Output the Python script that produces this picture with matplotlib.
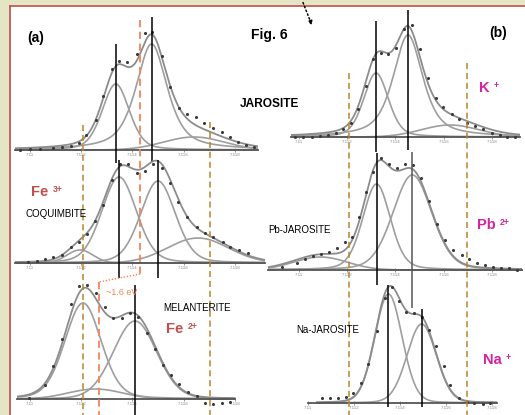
import numpy as np
import matplotlib.pyplot as plt
from matplotlib import font_manager
from matplotlib.patches import Rectangle

plt.rcParams['font.family'] = ['Liberation Sans', 'DejaVu Sans']

W, H = 525, 415

# energy axis ticks (eV) and their keV labels
tick_e = [7110, 7112, 7114, 7116, 7118]
tick_lab = ['7.11', '7.112', '7.114', '7.116', '7.118']

# pre-edge fit components: centre (eV), height, FWHM (eV), lorentzian share
jar_comp = [(7113.35, 0.66, 1.25, 0.3), (7114.75, 1.06, 1.45, 0.65), (7116.4, 0.13, 2.8, 0.0)]
jar_e = [7109.6, 7110.0, 7110.4, 7110.9, 7111.25, 7111.6, 7111.91, 7112.19, 7112.58, 7112.85,
         7113.2, 7113.48, 7113.79, 7114.18, 7114.49, 7114.77, 7115.16, 7115.47, 7115.82, 7116.15,
         7116.48, 7116.8, 7117.15, 7117.5, 7117.81, 7118.13, 7118.45, 7118.75]
jar_i = [0.0, 0.01, 0.01, 0.02, 0.03, 0.04, 0.07, 0.15, 0.30, 0.54,
         0.81, 0.89, 0.88, 0.96, 1.17, 1.18, 0.94, 0.63, 0.42, 0.36,
         0.33, 0.27, 0.22, 0.18, 0.13, 0.08, 0.05, 0.03]

coq_comp = [(7111.95, 0.13, 1.2, 0.0), (7113.48, 0.86, 1.6, 0.2), (7115.0, 0.82, 1.6, 0.2), (7116.56, 0.25, 2.8, 0.0)]
coq_e = [7109.92, 7110.27, 7110.59, 7110.9, 7111.25, 7111.6, 7111.91, 7112.23, 7112.54, 7112.85,
         7113.2, 7113.52, 7113.83, 7114.18, 7114.49, 7114.8, 7115.16, 7115.47, 7115.78, 7116.13,
         7116.52, 7116.84, 7117.15, 7117.54, 7117.81, 7118.16, 7118.52]
coq_i = [0.01, 0.02, 0.04, 0.06, 0.08, 0.16, 0.21, 0.29, 0.42, 0.58,
         0.83, 0.99, 0.99, 0.90, 0.92, 0.99, 0.95, 0.80, 0.61, 0.46,
         0.36, 0.30, 0.26, 0.21, 0.16, 0.13, 0.10]

mel_comp = [(7112.07, 0.96, 1.68, 0.2), (7112.55, 0.10, 2.5, 0.0), (7114.1, 0.78, 2.0, 0.1)]
mel_e = [7109.96, 7110.59, 7110.9, 7111.25, 7111.6, 7111.91, 7112.23, 7112.58, 7112.93, 7113.24,
         7113.59, 7113.91, 7114.22, 7114.57, 7114.88, 7115.2, 7115.51, 7115.82, 7116.17, 7116.52,
         7116.84, 7117.15, 7117.5, 7117.81]
mel_i = [0.01, 0.14, 0.33, 0.60, 0.95, 1.13, 1.14, 1.06, 0.92, 0.81,
         0.81, 0.86, 0.82, 0.66, 0.50, 0.34, 0.24, 0.15, 0.07, 0.03,
         -0.04, -0.05, -0.04, -0.03]

k_comp = [(7113.2, 0.64, 1.2, 0.3), (7114.52, 1.02, 1.45, 0.65), (7116.26, 0.12, 2.8, 0.0)]
k_e = [7109.85, 7110.18, 7110.55, 7110.88, 7111.21, 7111.55, 7111.83, 7112.17, 7112.45, 7112.79,
       7113.07, 7113.4, 7113.69, 7114.02, 7114.36, 7114.69, 7115.02, 7115.35, 7115.68, 7115.97,
       7116.34, 7116.63, 7116.96, 7117.29, 7117.62, 7117.99, 7118.32, 7118.61, 7118.94]
k_i = [0.0, 0.0, 0.0, 0.01, 0.02, 0.04, 0.08, 0.14, 0.28, 0.51,
       0.78, 0.84, 0.83, 0.89, 1.08, 1.12, 0.88, 0.59, 0.39, 0.30,
       0.23, 0.18, 0.14, 0.11, 0.08, 0.04, 0.02, 0.0, 0.0]

pb_comp = [(7110.9, 0.13, 2.6, 0.0), (7113.22, 0.86, 1.35, 0.25), (7114.7, 0.95, 1.9, 0.2)]
pb_e = [7109.31, 7109.93, 7110.26, 7110.6, 7110.93, 7111.26, 7111.59, 7111.92, 7112.21, 7112.5,
        7112.79, 7113.07, 7113.4, 7113.74, 7114.07, 7114.4, 7114.73, 7115.06, 7115.39, 7115.72,
        7116.05, 7116.38, 7116.75, 7117.04, 7117.37, 7117.7, 7118.03, 7118.36, 7118.69, 7119.02]
pb_i = [0.03, 0.07, 0.11, 0.14, 0.16, 0.18, 0.22, 0.28, 0.33, 0.53,
        0.78, 0.98, 1.12, 1.06, 1.02, 1.06, 1.05, 0.92, 0.69, 0.46,
        0.30, 0.20, 0.15, 0.11, 0.07, 0.05, 0.03, 0.02, 0.02, 0.0]

na_comp = [(7113.49, 1.09, 1.4, 0.1), (7114.93, 0.79, 1.5, 0.1)]
na_e = [7110.6, 7110.97, 7111.3, 7111.63, 7111.96, 7112.29, 7112.62, 7112.99, 7113.32, 7113.65,
        7113.94, 7114.27, 7114.6, 7114.93, 7115.26, 7115.55, 7115.88, 7116.17, 7116.55, 7116.88,
        7117.21, 7117.58, 7117.91]
na_i = [0.05, 0.05, 0.05, 0.06, 0.10, 0.20, 0.39, 0.72, 1.05, 1.16,
        1.02, 0.91, 0.90, 0.86, 0.73, 0.57, 0.37, 0.18, 0.05, 0.01,
        0.0, -0.01, 0.0]

# absorption-edge markers (eV)
edge_a = [7112.07, 7117.03]
edge_b = [7112.08, 7116.96]
fe3_centroid = 7114.3
shift_ev = 1.6
fe2_centroid = fe3_centroid - shift_ev

BEIGE = '#e3e5c4'
RED = '#c0504d'
MAGENTA = '#d4239f'
BROWN = '#b8862c'
ORANGE = '#f4845a'
CURVE = '#9e9e9e'

names = {f.name for f in font_manager.fontManager.ttflist}
narrow = 'Liberation Sans Narrow' if 'Liberation Sans Narrow' in names else 'Liberation Sans'
name_size = 8 if narrow == 'Liberation Sans Narrow' else 7


def col_px(col, e):
    if col == 'a':
        return 30 + (e - 7110) * 25.6
    return 347 + (e - 7112) * 24.2


def pvoigt(e, c, h, w, eta):
    g = np.exp(-4 * np.log(2) * ((e - c) / w) ** 2)
    l = 1 / (1 + 4 * ((e - c) / w) ** 2)
    return h * (eta * l + (1 - eta) * g)


fig = plt.figure(figsize=(W / 100, H / 100), dpi=100, facecolor=BEIGE)

# page frame
page = fig.add_axes([0, 0, 1, 1], zorder=-1)
page.set_xlim(0, W)
page.set_ylim(H, 0)
page.axis('off')
page.add_patch(Rectangle((10.5, 6.5), W, H, color='white', lw=0))
page.plot([9.8, 9.8], [5.6, H], color=RED, lw=1.2)
page.plot([9.8, W], [5.6, 5.6], color=RED, lw=1.2)

spectra = [
    ('a', 7109.41, 7118.91, 150, jar_comp, jar_e, jar_i, [(0, -0.13, 1.06, 'k'), (1, -0.12, 1.33, 'k')]),
    ('a', 7109.41, 7119.18, 263, coq_comp, coq_e, coq_i, [(1, -0.15, 1.03, 'k'), (2, -0.15, 1.03, 'k')]),
    ('a', 7109.49, 7118.01, 399, mel_comp, mel_e, mel_i, [(2, -0.16, 1.14, 'k')]),
    ('b', 7109.69, 7119.15, 137, k_comp, k_e, k_i, [(0, -0.15, 1.16, 'k'), (1, -0.13, 1.27, 'k')]),
    ('b', 7108.74, 7119.23, 270, pb_comp, pb_e, pb_i, [(1, -0.15, 1.17, 'k'), (2, -0.38, 1.18, '#555555')]),
    ('b', 7110.39, 7118.20, 403, na_comp, na_e, na_i, [(0, -0.04, 1.18, 'k'), (1, -0.04, 0.94, 'k')]),
]

for col, lo, hi, base, comps, pe, pi, vls in spectra:
    x0, x1 = col_px(col, lo), col_px(col, hi)
    ax = fig.add_axes([x0 / W, 1 - (base + 45) / H, (x1 - x0) / W, 185 / H])
    ax.set_xlim(lo, hi)
    ax.set_ylim(-0.45, 1.4)
    ax.patch.set_alpha(0)
    e = np.linspace(lo, hi, 600)
    total = np.zeros_like(e)
    for c, h, w, eta in comps:
        y = pvoigt(e, c, h, w, eta)
        total += y
        ax.plot(e, y, color=CURVE, lw=1.2)
    ax.plot(e, total, color='#8c8c8c', lw=1.3)
    ax.scatter(pe, pi, s=5, color='#3a3a3a', lw=0, zorder=4)
    for idx, y0, y1, c in vls:
        ax.vlines(comps[idx][0], y0, y1, color=c, lw=1.1, zorder=5)
    for s in ['top', 'right', 'left']:
        ax.spines[s].set_visible(False)
    ax.spines['bottom'].set_position(('data', 0))
    ax.spines['bottom'].set_color('#555555')
    ax.spines['bottom'].set_linewidth(1.3)
    ax.set_yticks([])
    ax.set_xticks(tick_e, tick_lab)
    ax.tick_params(axis='x', direction='inout', length=2.5, width=0.6,
                   colors='#8a8a8a', labelsize=3.2, pad=1.2)

# edge markers drawn over both columns
ova = fig.add_axes([0, 0, 1, 1])
ova.set_xlim(7110 - 30 / 25.6, 7110 + (W - 30) / 25.6)
ova.set_ylim(H, 0)
ova.axis('off')
ova.vlines(edge_a, [125, 122], H, color=BROWN, lw=1.1, linestyles=(0, (4, 2.5)))
ova.plot([fe3_centroid, fe3_centroid], [20, 274], color=ORANGE, lw=1.3, ls=(0, (4, 2.5)))
ova.plot([fe3_centroid, fe2_centroid], [274, 282], color=ORANGE, lw=1.0, ls=(0, (1, 1.2)))
ova.plot([fe2_centroid, fe2_centroid], [282, H], color=ORANGE, lw=1.3, ls=(0, (4, 2.5)))

ovb = fig.add_axes([0, 0, 1, 1])
ovb.set_xlim(7112 - 347 / 24.2, 7112 + (W - 347) / 24.2)
ovb.set_ylim(H, 0)
ovb.axis('off')
ovb.vlines(edge_b, [73, 63], H, color=BROWN, lw=1.1, linestyles=(0, (4, 2.5)))

# labels
txt = fig.add_axes([0, 0, 1, 1])
txt.set_xlim(0, W)
txt.set_ylim(H, 0)
txt.axis('off')

txt.text(27, 38, '(a)', fontsize=10, fontweight='bold', va='center')
txt.text(251, 35, 'Fig. 6', fontsize=10, fontweight='bold', va='center')
txt.text(489, 33, '(b)', fontsize=10, fontweight='bold', va='center')
txt.text(240, 104, 'JAROSITE', fontsize=8.6, fontweight='bold', va='center')

for x, y, name in [(25, 214, 'COQUIMBITE'), (163, 308, 'MELANTERITE'),
                   (268, 230, 'Pb-JAROSITE'), (296, 330, 'Na-JAROSITE')]:
    txt.text(x, y, name, fontsize=name_size, family=narrow, va='center')

for x, y, main, sup, col in [(31, 192, 'Fe', '3+', RED), (166, 329, 'Fe', '2+', RED),
                             (479, 88, 'K', '+', MAGENTA), (477, 225, 'Pb', '2+', MAGENTA),
                             (483, 360, 'Na', '+', MAGENTA)]:
    t = txt.text(x, y, main, fontsize=10.5, fontweight='bold', color=col, va='center')
    txt.annotate(sup, xy=(1, 1), xycoords=t, xytext=(3, 0), textcoords='offset points',
                 fontsize=6.2, fontweight='bold', color=col, va='top')

txt.text(106, 292, '~1.6 eV', fontsize=6.5, color=ORANGE, va='center')
txt.annotate('', xy=(313, 28), xytext=(302, 0),
             arrowprops=dict(arrowstyle='-|>', ls=':', color='k', lw=1.1, mutation_scale=6))

fig.savefig('out.png', dpi=100, facecolor=BEIGE)
